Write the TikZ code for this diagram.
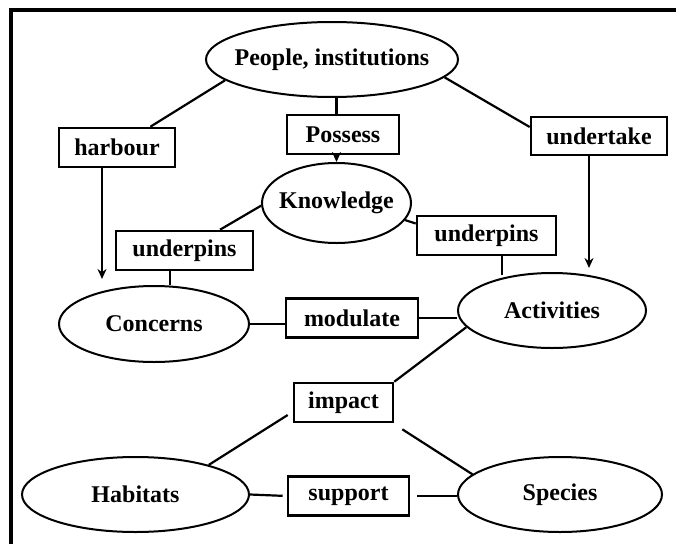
\documentclass[tikz,border=0pt]{standalone}
\usepackage{fontspec}
\setmainfont{Liberation Serif}
\usetikzlibrary{shapes.geometric,arrows.meta,calc}
\begin{document}
\begin{tikzpicture}[x=1pt,y=-1pt,
  every node/.style={font=\fontsize{24}{28}\selectfont\bfseries, inner sep=0pt},
  oval/.style={ellipse, draw, line width=2pt},
  verb/.style={rectangle, draw, line width=2.6pt},
  link/.style={line width=2.2pt},
  arr/.style={link, -{Stealth[length=10pt,width=9pt]}}]
\useasboundingbox (0,0) rectangle (676,543);
\draw[line width=4pt] (11,545) -- (11,10.5) -- (678,10.5);

\node[oval, minimum width=252pt, minimum height=75pt] (people) at (332,59.5) {\makebox[0pt]{People, institutions}};
\node[verb, minimum width=116pt, minimum height=39pt] (harbour) at (117,147.5) {harbour};
\node[verb, minimum width=112pt, minimum height=39pt] (possess) at (343,134.5) {Possess};
\node[verb, minimum width=136pt, minimum height=38pt] (undertake) at (599,136) {undertake};
\node[oval, minimum width=149pt, minimum height=80pt] (know) at (336.5,203) {\makebox[0pt]{Knowledge}};
\node[verb, minimum width=137pt, minimum height=39pt] (upl) at (184.5,250.5) {underpins};
\node[verb, minimum width=139pt, minimum height=39pt] (upr) at (486.5,235.5) {underpins};
\node[oval, minimum width=190pt, minimum height=76pt] (concerns) at (154,324) {\makebox[0pt]{Concerns}};
\node[verb, minimum width=132pt, minimum height=39pt] (modulate) at (352,318) {modulate};
\node[oval, minimum width=188pt, minimum height=75pt] (activities) at (552,310.5) {\makebox[0pt]{Activities}};
\node[verb, minimum width=99pt, minimum height=39pt] (impact) at (343.5,402.5) {impact};
\node[oval, minimum width=227pt, minimum height=75pt] (habitats) at (135.5,494.5) {\makebox[0pt]{Habitats}};
\node[verb, minimum width=121pt, minimum height=39pt] (support) at (348.5,496) {support};
\node[oval, minimum width=204pt, minimum height=75pt] (species) at (560,494.5) {\makebox[0pt]{Species}};

\draw[link] (people.191) -- (harbour);
\draw[link] (people.351) -- ([yshift=9pt]undertake.west);
\draw[link] (know.north |- people.south) -- (know.north |- possess.north);
\draw[arr] (know.north |- possess.south) -- (know.north);
\draw[arr] ([xshift=-15pt]harbour.south) -- ($(harbour.south |- concerns.north)+(-15pt,6pt)$);
\draw[arr] ([xshift=-10pt]undertake.south) -- ($(undertake.south |- activities.north)+(-10pt,4pt)$);
\draw[link] (know.182) -- (upl);
\draw[link] (know.346) -- ([yshift=12pt]upr.west);
\draw[link] ([xshift=-14.5pt]upl.south) -- ($(upl.south |- concerns.north)+(-14.5pt,0pt)$);
\draw[link] ([xshift=15.5pt]upr.south) -- ($(upr.south |- activities.north)+(15.5pt,-3pt)$);
\draw[link] (concerns.east) -- (concerns.east -| modulate.west);
\draw[link] (modulate.east) -- (modulate.east -| activities.west);
\draw[link] (activities.191) -- (impact.north east);
\draw[link] ([shift={(-5pt,-12.5pt)}]impact.west) -- (habitats.22);
\draw[link] ([shift={(8pt,-6pt)}]impact.south east) -- (species.167);
\draw[link, shorten >=4pt] (habitats.east) -- (support.west);
\draw[link, shorten <=7pt] (support.east) -- (support.east -| species.west);
\end{tikzpicture}
\end{document}
